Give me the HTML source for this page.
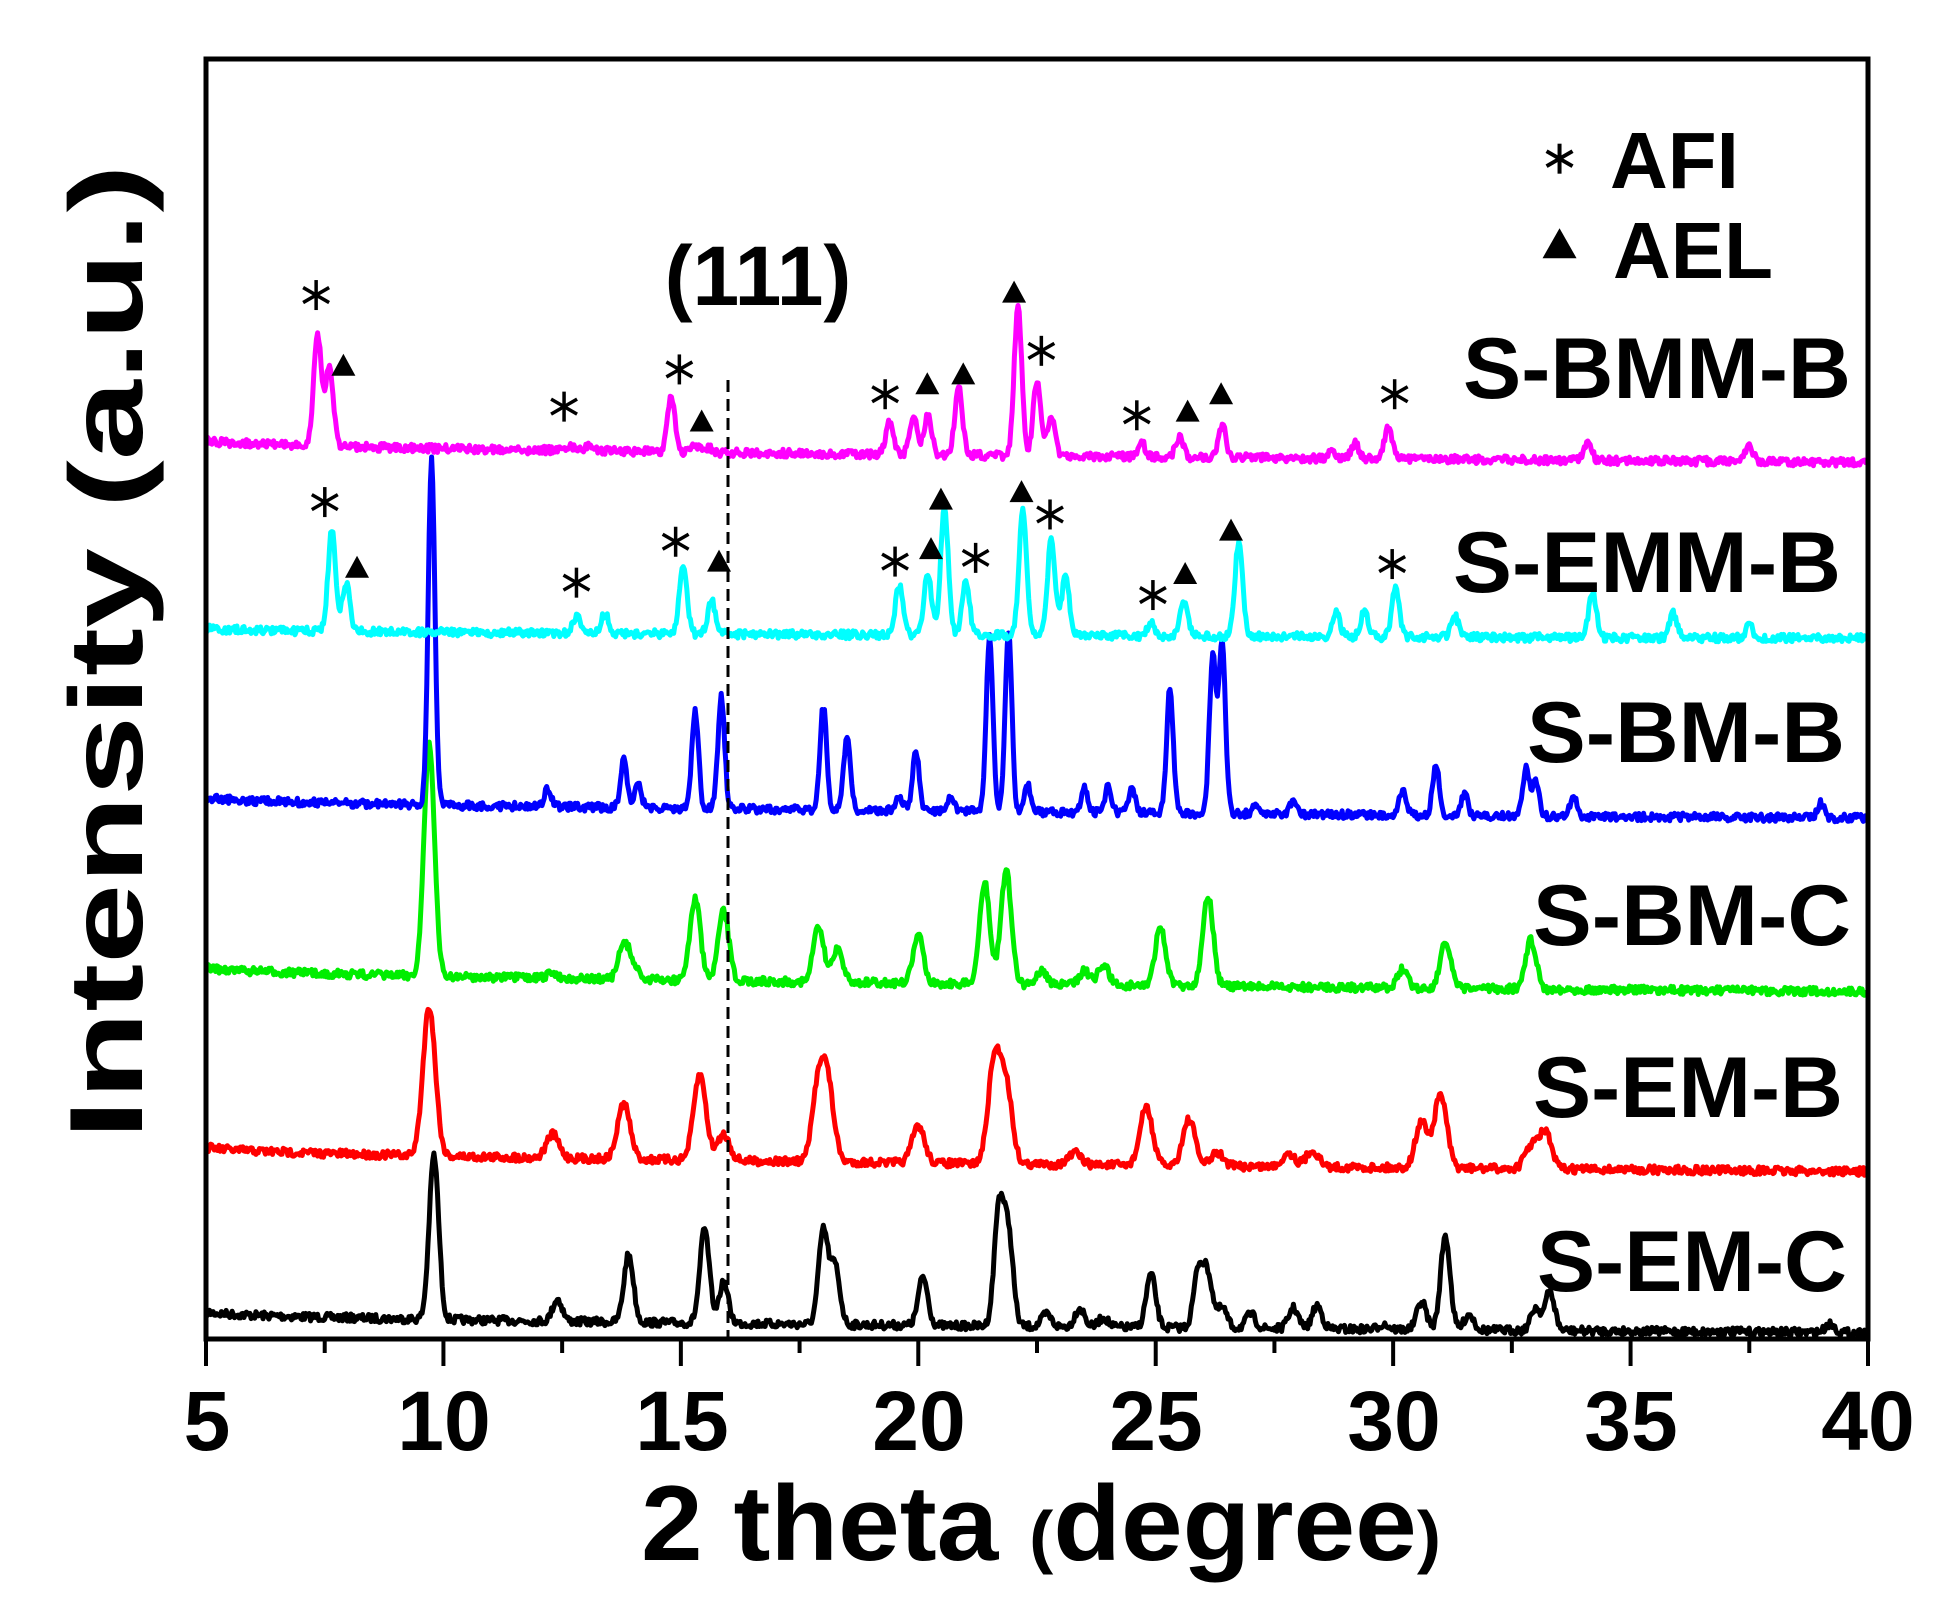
<!DOCTYPE html>
<html><head><meta charset="utf-8"><style>
html,body{margin:0;padding:0;background:#fff;}
svg{display:block;}
text{font-family:"Liberation Sans",Arial,sans-serif;font-weight:bold;fill:#000;}
</style></head><body>
<svg id="s" width="1934" height="1610" xmlns="http://www.w3.org/2000/svg">
<g id="traces"></g>
<line x1="728" y1="380" x2="728" y2="1339" stroke="#000" stroke-width="3" stroke-dasharray="12,7"/>
<rect x="206" y="59" width="1662" height="1280" fill="none" stroke="#000" stroke-width="5"/>
<g id="ticks" stroke="#000" stroke-width="4"></g>
<g id="marks"></g>
<g font-size="84" text-anchor="middle">
<text x="207" y="1450">5</text><text x="444" y="1450">10</text><text x="682" y="1450">15</text><text x="919" y="1450">20</text><text x="1156" y="1450">25</text><text x="1394" y="1450">30</text><text x="1631" y="1450">35</text><text x="1868" y="1450">40</text>
</g>
<text x="1041" y="1560" font-size="107" text-anchor="middle" textLength="800" lengthAdjust="spacingAndGlyphs">2 theta <tspan font-size="70">(</tspan>degree<tspan font-size="70">)</tspan></text>
<text transform="translate(142,652) rotate(-90)" font-size="104" text-anchor="middle" textLength="975" lengthAdjust="spacingAndGlyphs">Intensity (a.u.)</text>
<text x="758" y="305" font-size="84" text-anchor="middle">(111)</text>
<g font-size="86" text-anchor="end">
<text x="1851" y="398" textLength="388" lengthAdjust="spacingAndGlyphs">S-BMM-B</text>
<text x="1841" y="592" textLength="388" lengthAdjust="spacingAndGlyphs">S-EMM-B</text>
<text x="1845" y="762" textLength="318" lengthAdjust="spacingAndGlyphs">S-BM-B</text>
<text x="1851" y="945" textLength="318" lengthAdjust="spacingAndGlyphs">S-BM-C</text>
<text x="1843" y="1117" textLength="310" lengthAdjust="spacingAndGlyphs">S-EM-B</text>
<text x="1847" y="1291" textLength="310" lengthAdjust="spacingAndGlyphs">S-EM-C</text>
</g>
<g font-size="80">
<text x="1610" y="188">AFI</text>
<text x="1613" y="278">AEL</text>
</g>
</svg>
<script>
var S=1.2397;
function X(t){return 206+(t-5)/35*1662;}
var seed=7;function rnd(){seed=(seed*16807)%2147483647;return seed/2147483647;}
var series=[
{c:"#000",b0:1058,b1:1075,w:0.1,p:[[9.8,932],[12.4,1048],[13.9,1012],[15.5,992],[15.9,1035],[18.0,993],[18.25,1022],[20.1,1030],[21.7,975],[21.9,998],[22.7,1060],[23.4,1055],[23.9,1063],[24.9,1028],[25.9,1025],[26.1,1030],[26.4,1055],[27.0,1060],[27.9,1055],[28.4,1053],[29.8,1068],[30.6,1050],[31.1,997],[31.6,1060],[33.0,1055],[33.3,1042],[39.2,1068]]},
{c:"#ff0000",b0:925,b1:945,w:0.13,p:[[9.7,812],[12.3,915],[13.8,890],[15.4,867],[15.9,915],[17.9,877],[18.1,882],[20.0,908],[21.6,858],[21.85,878],[23.3,930],[24.8,893],[25.7,903],[26.3,930],[27.8,930],[28.3,928],[30.6,905],[31.0,883],[32.9,925],[33.2,913]]},
{c:"#00ee00",b0:780,b1:800,w:0.11,p:[[9.7,600],[12.3,785],[13.8,762],[14.0,780],[15.3,725],[15.9,735],[17.9,748],[18.3,765],[20.0,755],[21.4,713],[21.85,702],[22.6,783],[23.5,783],[23.9,778],[25.1,748],[26.1,722],[30.2,782],[31.1,760],[32.9,758]]},
{c:"#0000ff",b0:643,b1:660,w:0.07,p:[[9.75,370],[12.2,635],[13.8,612],[14.1,633],[15.3,573],[15.85,562],[18.0,570],[18.5,593],[19.6,643],[19.95,607],[20.7,642],[21.5,515],[21.9,510],[22.3,633],[23.5,635],[24.0,635],[24.5,637],[25.3,555],[26.2,530],[26.4,520],[27.1,650],[27.9,645],[30.2,637],[30.9,617],[31.5,640],[32.8,620],[33.0,630],[33.8,642],[39.0,648]]},
{c:"#00ffff",b0:507,b1:515,w:0.08,p:[[7.65,428],[7.95,470],[12.8,497],[13.4,495],[15.05,455],[15.65,485],[19.6,472],[20.2,462],[20.55,410],[21.0,470],[22.2,412],[22.8,435],[23.1,465],[24.9,502],[25.6,485],[26.75,437],[28.8,495],[29.4,493],[30.05,475],[31.3,497],[34.2,478],[35.9,495],[37.5,505]]},
{c:"#ff00ff",b0:355,b1:373,w:0.08,p:[[7.35,270],[7.6,295],[12.7,360],[13.1,358],[14.8,320],[15.3,358],[15.6,362],[19.4,340],[19.9,335],[20.2,335],[20.85,313],[22.1,248],[22.5,307],[22.8,337],[24.7,357],[25.5,353],[26.4,343],[28.7,365],[29.2,358],[29.9,345],[34.1,357],[37.5,360]]}
];
var g=document.getElementById("traces"),out="";
series.forEach(function(s){
 var pts=[];
 for(var i=0;i<=1400;i++){
  var t=5+35*i/1400;
  var f=(t-5)/35;
  var base=(s.b0+(s.b1-s.b0)*Math.sqrt(f))*S;
  var y=base;
  s.p.forEach(function(p){
   var bp=(s.b0+(s.b1-s.b0)*Math.sqrt((p[0]-5)/35));
   var h=(bp-p[1])*S;
   var d=(t-p[0])/s.w;
   y-=h*Math.exp(-0.5*d*d);
  });
  y+=(rnd()-0.5)*8;
  pts.push(X(t).toFixed(1)+","+y.toFixed(1));
 }
 out+='<polyline fill="none" stroke="'+s.c+'" stroke-width="5" stroke-linejoin="round" points="'+pts.join(" ")+'"/>';
});
g.innerHTML=out;
var tk="";
for(var t=5;t<=40;t+=2.5){var x=X(t);var L=(t%5==0)?27:14;tk+='<line x1="'+x+'" y1="1339" x2="'+x+'" y2="'+(1339+L)+'"/>';}
document.getElementById("ticks").innerHTML=tk;
function star(x,y){x*=S;y*=S;var r=15,m="";for(var k=0;k<3;k++){var a=Math.PI/2+k*Math.PI/3;m+='<line x1="'+(x-r*Math.cos(a))+'" y1="'+(y-r*Math.sin(a))+'" x2="'+(x+r*Math.cos(a))+'" y2="'+(y+r*Math.sin(a))+'" stroke="#000" stroke-width="3.5"/>';}return m;}
function tri(x,y){x*=S;y*=S;return '<polygon points="'+(x-12)+','+(y+10)+' '+(x+12)+','+(y+10)+' '+x+','+(y-12)+'" fill="#000"/>';}
var mk="";
[[255,238],[455,328],[548,298],[714,318],[840,283],[917,335],[1125,318],[262,405],[465,470],[545,437],[722,453],[787,450],[847,415],[930,480],[1123,455]].forEach(function(p){mk+=star(p[0],p[1]);});
[[277,295],[566,340],[748,310],[777,302],[818,236],[958,332],[985,318],[288,458],[580,453],[751,443],[759,403],[824,397],[956,463],[993,428]].forEach(function(p){mk+=tri(p[0],p[1]);});
mk+=star(1258,128).replace(/stroke-width="3.5"/g,'stroke-width="4"');
var x=1258*S,y=197*S;mk+='<polygon points="'+(x-17)+','+(y+14)+' '+(x+17)+','+(y+14)+' '+x+','+(y-16)+'" fill="#000"/>';
document.getElementById("marks").innerHTML=mk;
</script>
</body></html>
